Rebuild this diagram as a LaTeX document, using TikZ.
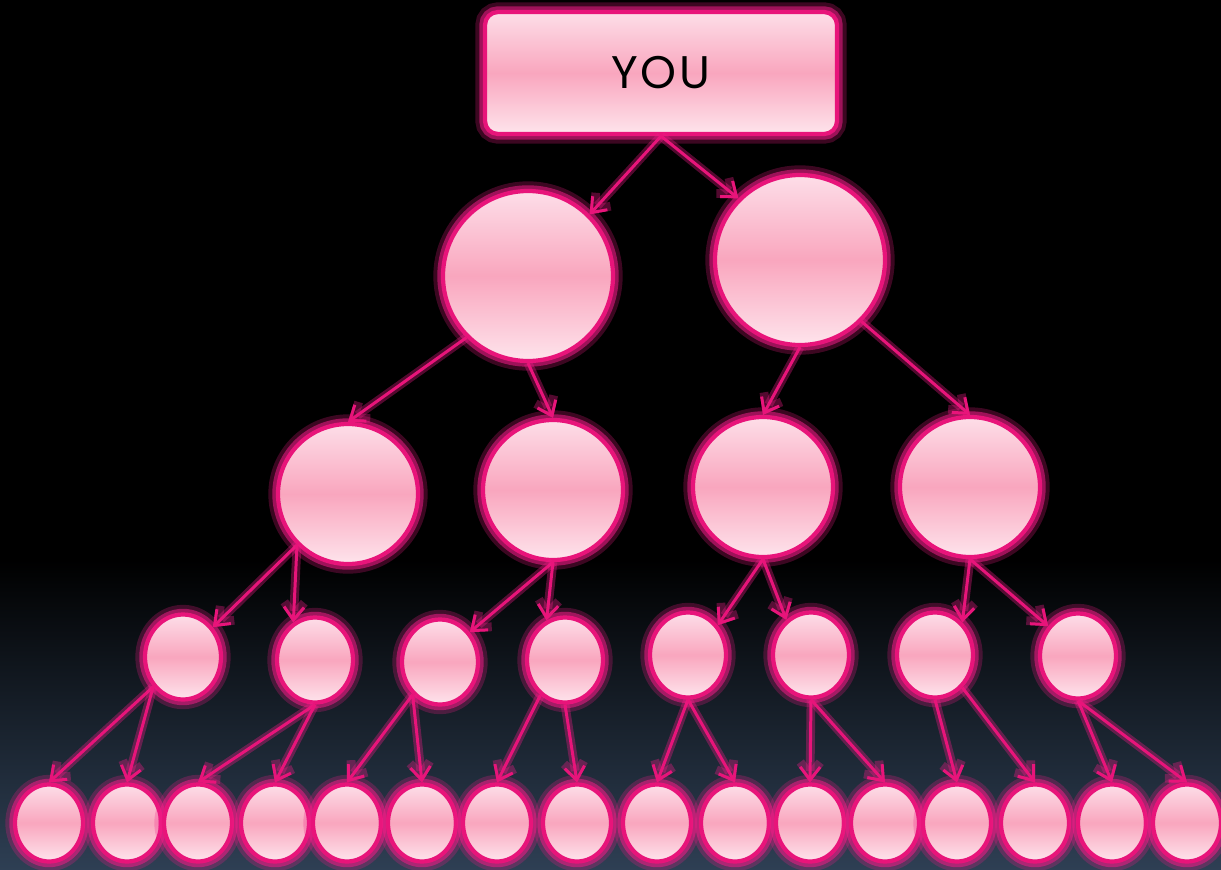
\documentclass[tikz,border=0pt]{standalone}
\usepackage{fontspec}
\newfontfamily\youfont[LetterSpace=6]{Poppins}
\usetikzlibrary{shapes.geometric, arrows.meta}

\definecolor{hotpink}{RGB}{232,20,122}
\definecolor{glowpink}{RGB}{240,28,135}
\definecolor{pinktop}{RGB}{253,222,232}
\definecolor{pinkmid}{RGB}{249,166,190}
\definecolor{pinkbot}{RGB}{254,228,236}
\definecolor{slate}{RGB}{46,63,84}

\begin{document}
\begin{tikzpicture}[x=0.2mm, y=-0.2mm,
  glow/.style={preaction={draw=glowpink, line width=11pt, opacity=0.25},
               preaction={draw=glowpink, line width=6.5pt, opacity=0.55}},
  bubble/.style={glow, draw=hotpink, line width=2.4pt, inner sep=0pt,
                 top color=pinktop, bottom color=pinkbot, middle color=pinkmid},
  bigball/.style={bubble, circle, minimum size=3.4cm},
  midball/.style={bubble, circle, minimum size=2.8cm},
  smallegg/.style={bubble, ellipse, minimum width=1.52cm, minimum height=1.7cm},
  tinyegg/.style={bubble, ellipse, minimum width=1.36cm, minimum height=1.54cm},
  wire/.style={draw=hotpink, line width=1.7pt, -{Straight Barb[length=2.6mm, width=4mm]},
               preaction={draw=glowpink, line width=5pt, opacity=0.35}}]
  % backdrop
  \useasboundingbox (0,0) rectangle (1221,870);
  \fill[black] (0,0) rectangle (1221,870);
  \shade[top color=black, bottom color=slate] (0,560) rectangle (1221,870);

  % top box
  \node[bubble, rectangle, rounded corners=2.6mm, minimum width=7.04cm, minimum height=2.44cm,
        font=\youfont\fontsize{26}{30}\selectfont] (you) at (661,73) {YOU};

  % level 1
  \node[bigball] (l1a) at (528,276) {};
  \node[bigball] (l1b) at (800,260) {};

  % level 2
  \node[midball] (l2a) at (348,494) {};
  \node[midball] (l2b) at (553,490) {};
  \node[midball] (l2c) at (763,487) {};
  \node[midball] (l2d) at (970,487) {};

  % level 3
  \node[smallegg] (l3a) at (183,657) {};
  \node[smallegg] (l3b) at (315,660) {};
  \node[smallegg] (l3c) at (440,662) {};
  \node[smallegg] (l3d) at (565,660) {};
  \node[smallegg] (l3e) at (688,655) {};
  \node[smallegg] (l3f) at (811,655) {};
  \node[smallegg] (l3g) at (935,655) {};
  \node[smallegg] (l3h) at (1078,656) {};

  % level 4
  \node[tinyegg] (l4a) at (49,823) {};
  \node[tinyegg] (l4b) at (127,823) {};
  \node[tinyegg] (l4c) at (198,823) {};
  \node[tinyegg] (l4d) at (275,823) {};
  \node[tinyegg] (l4e) at (347,823) {};
  \node[tinyegg] (l4f) at (422,823) {};
  \node[tinyegg] (l4g) at (497,823) {};
  \node[tinyegg] (l4h) at (577,823) {};
  \node[tinyegg] (l4i) at (657,823) {};
  \node[tinyegg] (l4j) at (735,823) {};
  \node[tinyegg] (l4k) at (810,823) {};
  \node[tinyegg] (l4l) at (885,823) {};
  \node[tinyegg] (l4m) at (957,823) {};
  \node[tinyegg] (l4n) at (1035,823) {};
  \node[tinyegg] (l4o) at (1112,823) {};
  \node[tinyegg] (l4p) at (1187,823) {};

  % arrows
  \draw[wire] (you.south) -- (l1a.45);
  \draw[wire] (you.south) -- (l1b.135);
  \draw[wire] (l1a.225) -- (l2a.north);
  \draw[wire] (l1a.south) -- (l2b.north);
  \draw[wire] (l1b.south) -- (l2c.north);
  \draw[wire] (l1b.-45) -- (l2d.north);
  \draw[wire] (l2a.225) -- (l3a.45);
  \draw[wire] (l2a.225) -- (l3b.120);
  \draw[wire] (l2b.south) -- (l3c.45);
  \draw[wire] (l2b.south) -- (l3d.115);
  \draw[wire] (l2c.south) -- (l3e.45);
  \draw[wire] (l2c.south) -- (l3f.125);
  \draw[wire] (l2d.south) -- (l3g.50);
  \draw[wire] (l2d.south) -- (l3h.135);
  \draw[wire] (l3a.225) -- (l4a.north);
  \draw[wire] (l3a.225) -- (l4b.north);
  \draw[wire] (l3b.south) -- (l4c.north);
  \draw[wire] (l3b.south) -- (l4d.north);
  \draw[wire] (l3c.230) -- (l4e.north);
  \draw[wire] (l3c.230) -- (l4f.north);
  \draw[wire] (l3d.235) -- (l4g.north);
  \draw[wire] (l3d.south) -- (l4h.north);
  \draw[wire] (l3e.south) -- (l4i.north);
  \draw[wire] (l3e.south) -- (l4j.north);
  \draw[wire] (l3f.south) -- (l4k.north);
  \draw[wire] (l3f.south) -- (l4l.north);
  \draw[wire] (l3g.south) -- (l4m.north);
  \draw[wire] (l3g.-50) -- (l4n.north);
  \draw[wire] (l3h.south) -- (l4o.north);
  \draw[wire] (l3h.south) -- (l4p.north);
\end{tikzpicture}
\end{document}
